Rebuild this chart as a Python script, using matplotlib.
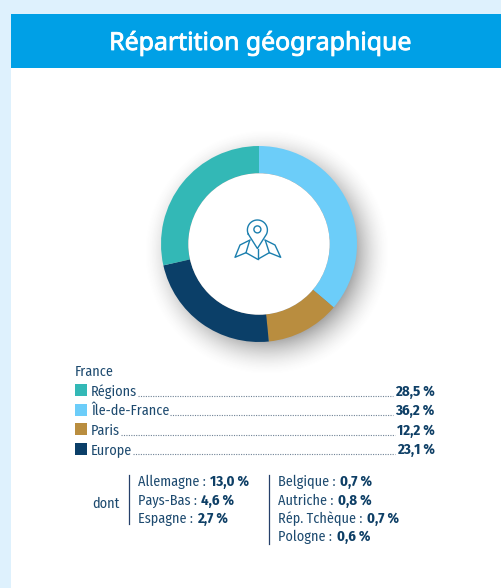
import numpy as np
import matplotlib
matplotlib.use('Agg')
import matplotlib.pyplot as plt
import matplotlib.patheffects as pe
from matplotlib.patches import Rectangle, Circle

# data
title = 'Répartition géographique'
pie_labels = ['Île-de-France', 'Paris', 'Europe', 'Régions']
pie_values = [36.2, 12.2, 23.1, 28.5]
pie_colors = ['#6ccdf9', '#b98d3f', '#0b3f68', '#33b8b6']
legend_labels = ['Régions', 'Île-de-France', 'Paris', 'Europe']
legend_values = ['28,5 %', '36,2 %', '12,2 %', '23,1 %']
legend_colors = ['#33b8b6', '#6ccdf9', '#b98d3f', '#0b3f68']
dont_left = [('Allemagne : ', '13,0 %'), ('Pays-Bas : ', '4,6 %'), ('Espagne : ', '2,7 %')]
dont_right = [('Belgique : ', '0,7 %'), ('Autriche : ', '0,8 %'), ('Rép. Tchèque : ', '0,7 %'), ('Pologne : ', '0,6 %')]

W, H = 501, 588
text_col = '#1d4a6f'
bold_col = '#0e3f66'
narrow = ['Fira Sans Condensed', 'Liberation Sans']
fs = 10.2
fs_bold = 10.6

fig = plt.figure(figsize=(W / 100, H / 100), dpi=100, facecolor='#def1fd')
ax = fig.add_axes([0, 0, 1, 1])
ax.set_xlim(0, W)
ax.set_ylim(H, 0)
ax.axis('off')

ax.add_patch(Rectangle((11, 14), W - 11, H - 14, fc='white', ec='none'))
ax.add_patch(Rectangle((11, 14), W - 11, 54, fc='#00a0e6', ec='none'))
ax.text(260, 50, title, color='white', fontsize=17.9, family='Noto Sans', ha='center', va='baseline',
        path_effects=[pe.withStroke(linewidth=0.6, foreground='white')])

# soft shadow of the donut
cx, cy, R = 259, 244, 98
sx, sy = np.meshgrid(np.arange(cx - 140, cx + 150), np.arange(cy - 140, cy + 150))
dist = np.hypot(sx + 0.5 - (cx + 8), sy + 0.5 - (cy + 8))
alpha = 0.74 * np.clip((R + 26 - dist) / 46, 0, 1) ** 1.8
shadow = np.zeros(dist.shape + (4,))
shadow[..., :3] = 0.3
shadow[..., 3] = alpha
ax.imshow(shadow, extent=(cx - 140, cx + 150, cy + 150, cy - 140), interpolation='bilinear', aspect='auto', zorder=2)
ax.set_xlim(0, W)
ax.set_ylim(H, 0)

# donut
pie_ax = fig.add_axes([(cx - R) / W, 1 - (cy + R) / H, 2 * R / W, 2 * R / H])
pie_ax.pie(pie_values, colors=pie_colors, startangle=90, counterclock=False, radius=1,
           wedgeprops=dict(width=1 - 70.7 / 98, linewidth=0))
pie_ax.set_xlim(-1, 1)
pie_ax.set_ylim(-1, 1)

# map pin icon, over the donut hole
icon = fig.add_axes([0, 0, 1, 1])
icon.set_xlim(0, W)
icon.set_ylim(H, 0)
icon.axis('off')
icon.add_patch(Circle((cx, cy), 70.7, fc='white', ec='none'))
icol = '#1b7fae'
t = np.linspace(np.radians(-205), np.radians(25), 40)
pin_x = 257.4 + 10 * np.cos(t)
pin_y = 230 + 10 * np.sin(t)
icon.plot(list(pin_x) + [257.4, pin_x[0]], list(pin_y) + [248.5, pin_y[0]], color=icol, lw=1.0)
icon.add_patch(Circle((257.4, 229.4), 3.5, fc='none', ec=icol, lw=1.0))
icon.plot([250, 240, 235, 246, 257.7, 269.3, 280.7, 275, 265], [240, 245, 257.3, 252.7, 259.3, 252.7, 257.3, 245, 240],
          color=icol, lw=1.0)
icon.plot([246, 249.5], [252.7, 241], color=icol, lw=1.0)
icon.plot([269.3, 265.5], [252.7, 241], color=icol, lw=1.0)
icon.plot([257.7, 257.7], [248.5, 259.3], color=icol, lw=1.0)

fig.canvas.draw()
rend = fig.canvas.get_renderer()


def two_part(x, y, a, b):
    t1 = ax.text(x, y, a, color=text_col, fontsize=fs, family=narrow, va='baseline')
    x1 = t1.get_window_extent(rend).x1
    ax.text(x1 + 1, y, b, color=bold_col, fontsize=fs_bold, family=narrow, weight='bold', va='baseline')


# legend
ax.text(75, 375.7, 'France', color=text_col, fontsize=fs, family=narrow, va='baseline')
row_y = [395.7, 415, 434.7, 454]
box_y = [384.3, 404, 423.3, 442.7]
for y, by, lab, val, col in zip(row_y, box_y, legend_labels, legend_values, legend_colors):
    ax.add_patch(Rectangle((75, by), 12, 12, fc=col, ec='none'))
    t1 = ax.text(91, y, lab, color=text_col, fontsize=fs, family=narrow, va='baseline')
    t2 = ax.text(434.5, y, val, color=bold_col, fontsize=fs_bold, family=narrow, weight='bold', ha='right', va='baseline')
    x0 = t1.get_window_extent(rend).x1 + 1
    x1 = t2.get_window_extent(rend).x0 - 2
    ax.plot([x0, x1], [y, y], color='#6f8295', lw=0.8, dashes=(1, 1.2))

# "dont" block
ax.text(92, 508, 'dont', color=text_col, fontsize=fs, family=narrow, va='baseline')
ax.plot([129, 129], [475, 524.3], color='#26406a', lw=0.9)
ax.plot([269.3, 269.3], [475, 544], color='#26406a', lw=0.9)
ys = [485.7, 505, 523.3, 541]
for y, (a, b) in zip(ys, dont_left):
    two_part(137.7, y, a, b)
for y, (a, b) in zip(ys, dont_right):
    two_part(278.3, y, a, b)

fig.savefig('out.png', dpi=100, facecolor=fig.get_facecolor())
